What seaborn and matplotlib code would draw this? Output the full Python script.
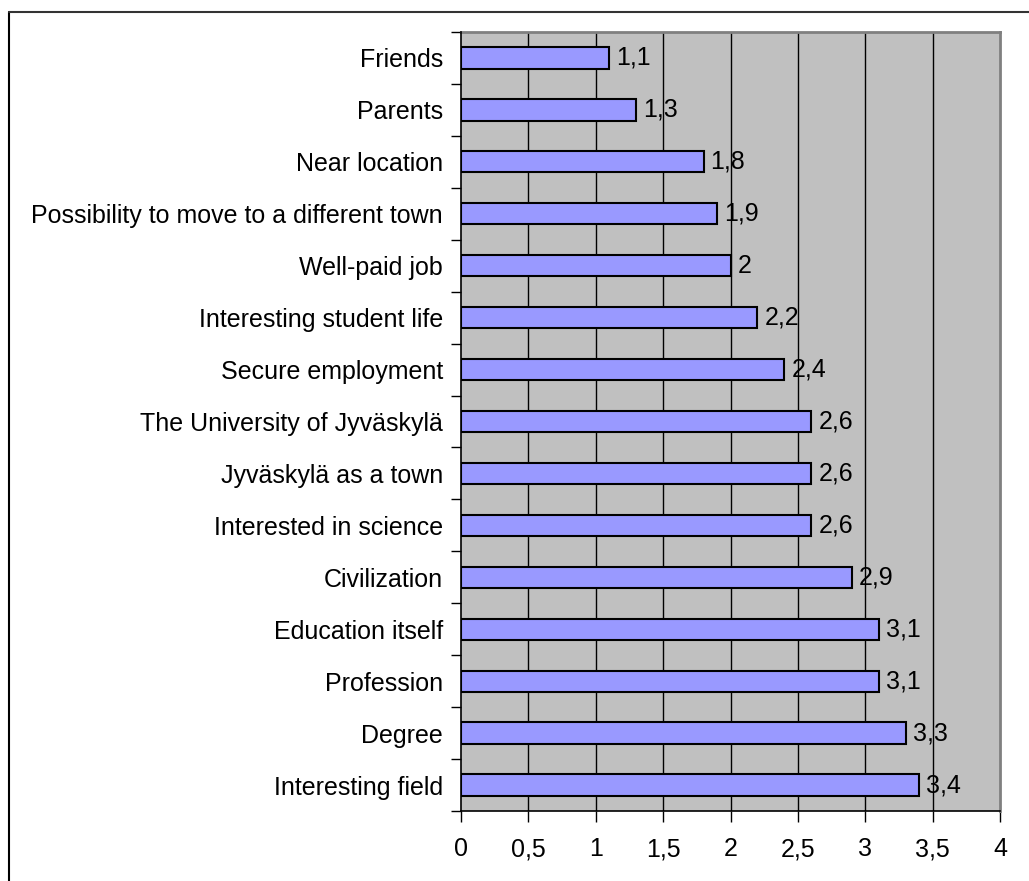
import matplotlib
matplotlib.use("Agg")
import matplotlib.pyplot as plt
from matplotlib.lines import Line2D
from matplotlib.ticker import FixedLocator
import seaborn as sns
import pandas as pd

categories = [
    "Friends",
    "Parents",
    "Near location",
    "Possibility to move to a different town",
    "Well-paid job",
    "Interesting student life",
    "Secure employment",
    "The University of Jyväskylä",
    "Jyväskylä as a town",
    "Interested in science",
    "Civilization",
    "Education itself",
    "Profession",
    "Degree",
    "Interesting field",
]
values = [1.1, 1.3, 1.8, 1.9, 2.0, 2.2, 2.4, 2.6, 2.6, 2.6, 2.9, 3.1, 3.1, 3.3, 3.4]
x_ticks = [0, 0.5, 1, 1.5, 2, 2.5, 3, 3.5, 4]

df = pd.DataFrame({"reason": categories, "score": values})

sns.set_style("white")
plt.rcParams["font.family"] = ["Liberation Sans", "DejaVu Sans"]
plt.rcParams["text.color"] = "black"
plt.rcParams["xtick.color"] = "black"
plt.rcParams["ytick.color"] = "black"

W, H = 1029, 881
fig = plt.figure(figsize=(W / 100, H / 100), dpi=100)
left, right, top, bottom = 461, 1000, 32, 811
ax = fig.add_axes([left / W, 1 - bottom / H, (right - left) / W, (bottom - top) / H])
ax.set_facecolor("#C0C0C0")

sns.barplot(data=df, x="score", y="reason", orient="h", ax=ax,
            color="#9999FF", saturation=1, width=0.41,
            edgecolor="black", linewidth=1.5, zorder=3)

ax.set_xlim(0, 4)
ax.set_ylim(len(categories) - 0.5, -0.5)
ax.set_xlabel("")
ax.set_ylabel("")

# vertical gridlines
for xv in x_ticks[1:-1]:
    ax.axvline(xv, color="black", linewidth=1.0, zorder=1)

fs = 18
ax.set_xticks(x_ticks)
ax.set_xticklabels([f"{t:g}".replace(".", ",") for t in x_ticks], fontsize=fs)
ax.tick_params(axis="x", bottom=True, direction="out", length=8, width=1,
               color="black", labelcolor="black", pad=11)

ax.set_yticks(range(len(categories)))
ax.set_yticklabels(categories, fontsize=fs)
ax.tick_params(axis="y", which="major", left=True, length=0, pad=13, labelcolor="black")
ax.yaxis.set_minor_locator(FixedLocator([i - 0.5 for i in range(len(categories) + 1)]))
ax.tick_params(axis="y", which="minor", left=True, direction="out", length=7, width=1,
               color="black")

for name in ["left", "bottom"]:
    ax.spines[name].set_color("black")
    ax.spines[name].set_linewidth(1.2)
for name in ["top", "right"]:
    ax.spines[name].set_color("#808080")
    ax.spines[name].set_linewidth(2.0)
ax.spines["left"].set_zorder(4)

for i, v in enumerate(values):
    ax.annotate(f"{v:g}".replace(".", ","), xy=(v, i), xytext=(5, 0),
                textcoords="offset points", va="center", ha="left",
                fontsize=fs, color="black", zorder=5)

# outer frame (top and left edges)
fig.add_artist(Line2D([8.5 / W, 8.5 / W], [0, 1 - 12 / H], transform=fig.transFigure,
                      color="black", linewidth=1.5))
fig.add_artist(Line2D([8.5 / W, 1], [1 - 12 / H, 1 - 12 / H], transform=fig.transFigure,
                      color="#333333", linewidth=1.5))

fig.savefig("out.png", dpi=100, facecolor="white")
